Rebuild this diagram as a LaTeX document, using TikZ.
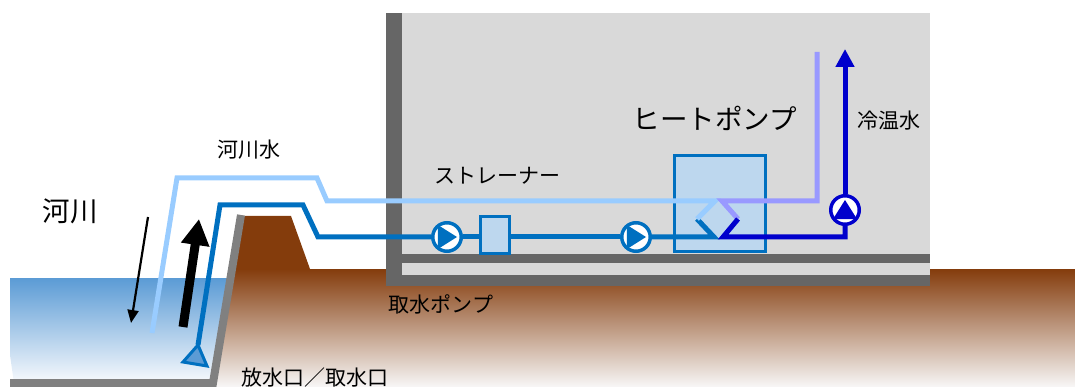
\documentclass[tikz,border=0pt]{standalone}
\usepackage{fontspec}
\newfontfamily\jp{Noto Sans CJK JP}
\usetikzlibrary{arrows.meta}

\definecolor{river}{HTML}{5B9BD5}
\definecolor{soil}{HTML}{843C0C}
\definecolor{bank}{HTML}{808080}
\definecolor{room}{HTML}{D9D9D9}
\definecolor{slab}{HTML}{666666}
\definecolor{outflow}{HTML}{99CCFF}
\definecolor{inflow}{HTML}{0070C0}
\definecolor{unit}{HTML}{BDD7EE}
\definecolor{supply}{HTML}{0000CC}
\definecolor{backflow}{HTML}{9999FF}

\begin{document}
\begin{tikzpicture}[x=1pt,y=-1pt,
	every node/.style={font=\jp\fontsize{21}{25}\selectfont},
	big/.style={font=\jp\fontsize{27.5}{32}\selectfont},
	pipe/.style={line width=5pt,draw=#1},
	% pump symbol, #2 = direction of the triangle (y runs downwards)
	pump/.style 2 args={circle,draw=#1,line width=3.5pt,fill=white,
		minimum size=28.5pt,inner sep=0pt,
		path picture={\fill[#1,shift={(path picture bounding box.center)}]
			(#2:10) -- (#2+127:15) -- (#2-127:15) -- cycle;}},
	strainer/.style={rectangle,draw=inflow,fill=unit,line width=3pt,
		minimum width=29pt,minimum height=36pt,inner sep=0pt},
	heatpump/.style={rectangle,draw=inflow,fill=unit,line width=3pt,
		minimum width=91pt,minimum height=96pt,inner sep=0pt}]
	\useasboundingbox (0,0) rectangle (1075,387);

	% river, ground and bank
	\shade[top color=river,middle color={rgb,255:red,185;green,210;blue,235},
		bottom color={rgb,255:red,248;green,250;blue,253}]
		(10,278) -- (236,278) -- (213,383) -- (14,383) -- (10,355) -- cycle;
	\shade[top color=soil,middle color={rgb,255:red,190;green,170;blue,165},
		bottom color={rgb,255:red,248;green,247;blue,247}]
		(232,269) -- (1075,269) -- (1075,387) -- (212,387) -- cycle;
	\fill[soil] (241,216) -- (291,216) -- (310,269) -- (232,269) -- cycle;
	\draw[bank,line width=8pt] (10,383) -- (213,383) -- (241,215);

	% building
	\fill[room] (386,13) rectangle (930,286);
	\fill[slab] (386,13) rectangle (402,286);
	\fill[slab] (386,275) rectangle (930,286);
	\fill[slab] (402,254) rectangle (930,263);

	% equipment
	\node[pump={inflow}{0}] (pumpA) at (447,237) {};
	\node[strainer] (filter) at (495,235) {};
	\node[pump={inflow}{0}] (pumpB) at (636,237) {};
	\node[heatpump] (hp) at (720,203.5) {};
	\node[pump={supply}{-90}] (pumpC) at (845,210) {};

	\coordinate (intake) at (198,345);
	\coordinate (outlet) at (152,333);
	\coordinate (hpL) at (697,219);
	\coordinate (hpR) at (738,219);
	\coordinate (riseR) at (817,52);
	\coordinate (riseS) at (845,49);

	% intake line
	\draw[pipe=inflow] (intake) -- (220,205) -- (303,205) -- (318,237) -- (pumpA);
	\draw[pipe=inflow] (pumpA) -- (pumpA -| filter.west);
	\draw[pipe=inflow] (pumpB -| filter.east) -- (pumpB);
	\draw[pipe=inflow] (pumpB) -- (714,237) -- (hpL);
	\filldraw[fill=river,draw=inflow,line width=3pt]
		(intake) -- ++(9,21) -- ++(-24,-4) -- cycle;
	% discharge line
	\draw[pipe=outflow] (hpL) -- (715,201) -- (327,201) -- (317,178) -- (177,178) -- (outlet);
	% chilled / hot water side
	\draw[pipe=backflow] (riseR) -- (817,201) -- (722,201) -- (hpR);
	\draw[pipe=supply] (hpR) -- (723,237) -- (845,237) -- (pumpC);
	\draw[pipe=supply,-{Triangle[length=18pt,width=18pt]}] (pumpC) -- (riseS);

	% flow in the river
	\coordinate (downA) at (148,217);
	\coordinate (downB) at (131,323);
	\coordinate (upA) at (183,327);
	\coordinate (upB) at (199,219);
	\draw[line width=2.2pt,-{Triangle[length=13pt,width=11pt]}] (downA) -- (downB);
	\draw[line width=9pt,-{Triangle[length=26pt,width=27pt]}] (upA) -- (upB);

	% labels
	\node[big] (riverlabel) at (70,211) {河川};
	\node (waterlabel) at (249,150) {河川水};
	\node (filterlabel) at (497,176) {ストレーナー};
	\node[big] (hplabel) at (715,118) {ヒートポンプ};
	\node (cwlabel) at (889,121) {冷温水};
	\node (pumplabel) at (441,304) {取水ポンプ};
	\node (portlabel) at (315,378) {放水口／取水口};
\end{tikzpicture}
\end{document}
